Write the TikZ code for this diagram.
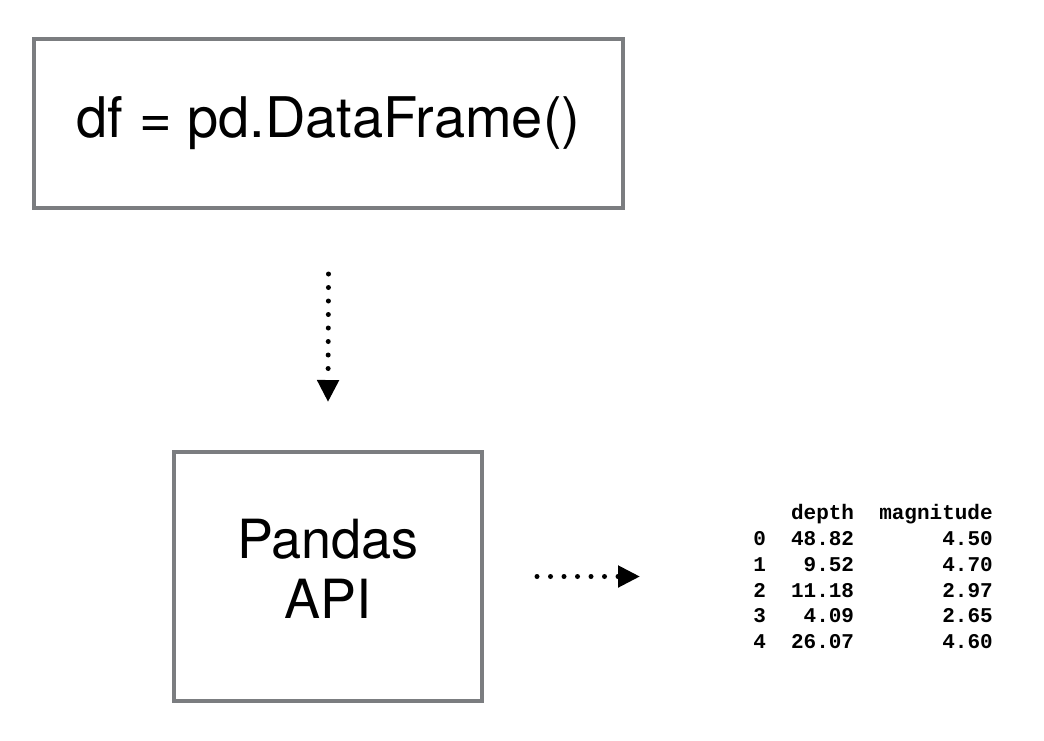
\documentclass[tikz,border=0pt]{standalone}
\usepackage{fontspec}
\setmainfont{TeX Gyre Heros}
\setmonofont{Liberation Mono}
\usetikzlibrary{arrows.meta}
\definecolor{boxgray}{HTML}{7B7D80}
\tikzset{
  box/.style={draw=boxgray, line width=4pt, inner sep=0pt, outer sep=0pt, align=center},
  dotline/.style={line width=5pt, line cap=round, dash pattern=on 0pt off 13.5pt,
    -{Triangle[length=22pt,width=21pt]}},
  outtable/.style={inner sep=0pt, font=\ttfamily\bfseries\fontsize{21}{25.75}\selectfont},
}
\begin{document}
\begin{tikzpicture}[x=1pt,y=-1pt]
\useasboundingbox[fill=white] (0,0) rectangle (1044,740);
\node[box, minimum width=589pt, minimum height=169pt, font=\fontsize{56}{67}\selectfont]
  (df) at (328.5,123.5) {\raisebox{-7pt}{df = pd.DataFrame()}};
\node[box, minimum width=308pt, minimum height=249pt, font=\fontsize{54}{60}\selectfont]
  (api) at (328,576.5) {\raisebox{4pt}{\begin{tabular}{@{}c@{}}Pandas\\API\end{tabular}}};
\node[outtable] (tbl) at (873,579) {\begin{tabular}{@{}l@{\hspace{1.2em}}r@{\hspace{1.2em}}r@{}}
 & depth & magnitude\\
0 & 48.82 & 4.50\\
1 & 9.52 & 4.70\\
2 & 11.18 & 2.97\\
3 & 4.09 & 2.65\\
4 & 26.07 & 4.60
\end{tabular}};
\draw[dotline] ([yshift=-66pt]df.south) -- ([yshift=50pt]api.north);
\draw[dotline] ([xshift=55pt]api.east) -- ([xshift=158pt]api.east);
\end{tikzpicture}
\end{document}
